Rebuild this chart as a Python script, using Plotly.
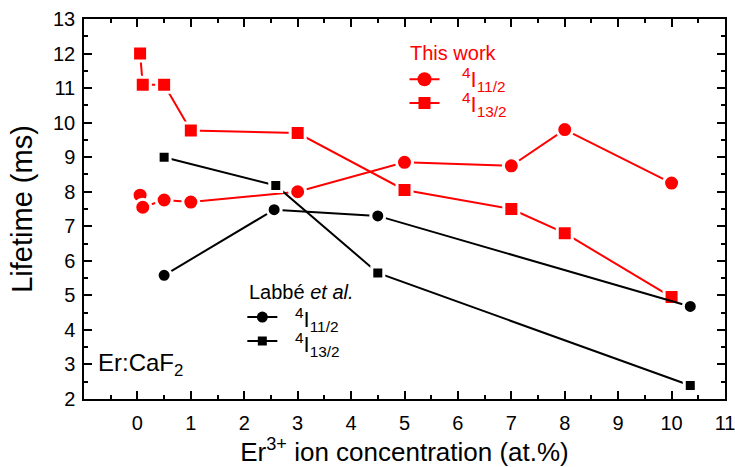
import plotly.graph_objects as go

# This work
tw_x_11 = [0.05, 0.1, 0.5, 1.0, 3.0, 5.0, 7.0, 8.0, 10.0]
tw_y_11 = [7.9, 7.55, 7.76, 7.70, 8.0, 8.85, 8.75, 9.8, 8.25]
tw_x_13 = [0.05, 0.1, 0.5, 1.0, 3.0, 5.0, 7.0, 8.0, 10.0]
tw_y_13 = [12.0, 11.1, 11.1, 9.77, 9.7, 8.05, 7.5, 6.8, 4.95]

# Labbé et al.
lb_x_11 = [0.5, 2.56, 4.5, 10.35]
lb_y_11 = [5.58, 7.48, 7.3, 4.68]
lb_x_13 = [0.5, 2.59, 4.5, 10.35]
lb_y_13 = [9.0, 8.18, 5.65, 2.39]

x_ticks = list(range(0, 12))
name_11 = "<sup>4</sup>I<sub>11/2</sub>"
name_13 = "<sup>4</sup>I<sub>13/2</sub>"

FONT = "Liberation Sans, Arial, sans-serif"
RED = "#ff0000"
GAP = dict(color="white", width=3)

fig = go.Figure()
# data traces (white rim gives the small gap between line and symbol)
fig.add_trace(go.Scatter(x=tw_x_11, y=tw_y_11, mode="lines+markers", name=name_11, showlegend=False,
                         line=dict(color=RED, width=2),
                         marker=dict(symbol="circle", size=16, color=RED, line=GAP)))
fig.add_trace(go.Scatter(x=tw_x_13, y=tw_y_13, mode="lines+markers", name=name_13, showlegend=False,
                         line=dict(color=RED, width=2),
                         marker=dict(symbol="square", size=15, color=RED, line=GAP)))
fig.add_trace(go.Scatter(x=lb_x_11, y=lb_y_11, mode="lines+markers", name=name_11, showlegend=False,
                         line=dict(color="black", width=2),
                         marker=dict(symbol="circle", size=14, color="black", line=GAP)))
fig.add_trace(go.Scatter(x=lb_x_13, y=lb_y_13, mode="lines+markers", name=name_13, showlegend=False,
                         line=dict(color="black", width=2),
                         marker=dict(symbol="square", size=12, color="black", line=GAP)))

# legend keys (symbols only; texts are annotations)
fig.add_trace(go.Scatter(x=[None], y=[None], mode="lines+markers", name="", legend="legend",
                         line=dict(color=RED, width=2), marker=dict(symbol="circle", size=14, color=RED)))
fig.add_trace(go.Scatter(x=[None], y=[None], mode="lines+markers", name="", legend="legend",
                         line=dict(color=RED, width=2), marker=dict(symbol="square", size=12, color=RED)))
fig.add_trace(go.Scatter(x=[None], y=[None], mode="lines+markers", name="", legend="legend2",
                         line=dict(color="black", width=2), marker=dict(symbol="circle", size=11, color="black")))
fig.add_trace(go.Scatter(x=[None], y=[None], mode="lines+markers", name="", legend="legend2",
                         line=dict(color="black", width=2), marker=dict(symbol="square", size=9, color="black")))

axis_common = dict(showline=True, linecolor="black", linewidth=1.5, mirror="ticks",
                   ticks="inside", ticklen=8, tickwidth=1.5, tickcolor="black",
                   showgrid=False, zeroline=False, automargin=False,
                   tickfont=dict(family=FONT, size=20, color="black"))

fig.update_xaxes(range=[-1, 11], tickmode="array", tickvals=x_ticks,
                 ticktext=[str(v) for v in x_ticks], ticklabelstandoff=5, ticklabeloverflow="allow",
                 minor=dict(dtick=0.5, tick0=0, ticks="inside", ticklen=4, tickwidth=1.5, tickcolor="black"),
                 title=dict(text="Er<sup>3+</sup> ion concentration (at.%)",
                            font=dict(family=FONT, size=26, color="black"), standoff=1),
                 **axis_common)
fig.update_yaxes(range=[2, 13], dtick=1, tick0=0, ticklabelstandoff=3,
                 minor=dict(dtick=0.5, tick0=0, ticks="inside", ticklen=4, tickwidth=1.5, tickcolor="black"),
                 title=dict(text="Lifetime (ms)", font=dict(family=FONT, size=29, color="black"), standoff=12),
                 **axis_common)

leg_common = dict(font=dict(family=FONT, size=16), xanchor="left", yanchor="top",
                  bgcolor="rgba(0,0,0,0)", borderwidth=0, tracegroupgap=0, itemwidth=30)

def ann(text, x, y, size, color):
    return dict(text=text, x=x, y=y, xref="paper", yref="paper", xanchor="left", yanchor="middle",
                showarrow=False, font=dict(family=FONT, size=size, color=color))

fig.update_layout(
    width=735, height=467,
    margin=dict(l=84, r=10, t=19, b=68),
    plot_bgcolor="white", paper_bgcolor="white",
    font=dict(family=FONT, color="black"),
    legend=dict(x=0.500, y=0.886, **leg_common),
    legend2=dict(x=0.247, y=0.260, **leg_common),
    annotations=[
        ann("This work", 0.505, 0.911, 20, RED),
        ann(name_11, 0.586, 0.840, 22, RED),
        ann(name_13, 0.586, 0.774, 22, RED),
        ann("Labbé <i>et al.</i>", 0.255, 0.282, 20, "black"),
        ann(name_11, 0.326, 0.208, 22, "black"),
        ann(name_13, 0.326, 0.143, 22, "black"),
        ann("Er:CaF<sub>2</sub>", 0.018, 0.09, 24, "black"),
    ],
)

fig.write_html("out.html", config={"displayModeBar": False},
               post_script="document.body.style.margin='0';")
